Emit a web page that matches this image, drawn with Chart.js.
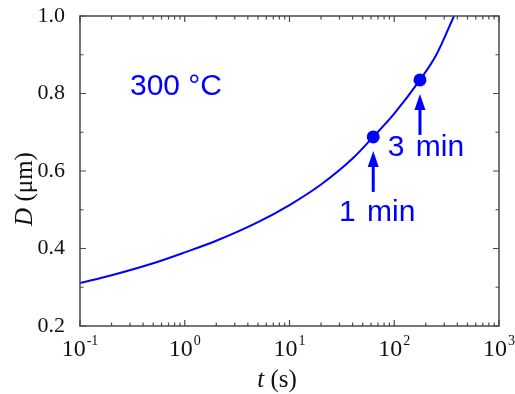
<!DOCTYPE html>
<html>
<head>
<meta charset="utf-8">
<script src="https://cdn.jsdelivr.net/npm/chart.js@4"></script>
<style>
  html, body { margin: 0; padding: 0; background: #fff; }
</style>
</head>
<body>
<canvas id="chart" width="515" height="394"></canvas>
<script>
// curve D(t)
const times = [0.1, 0.2, 0.5, 1, 2, 5, 10, 20, 40, 63, 100, 176, 250, 372];
const diam = [0.311, 0.331, 0.362, 0.390, 0.420, 0.468, 0.512, 0.565, 0.632, 0.688, 0.748, 0.835, 0.898, 1.0];

// marked annealing times
const markTimes = [63, 176];
const markDiam = [0.688, 0.835];
const markLabels = ['1 min', '3 min'];

// axis ticks
const xDecades = [0.1, 1, 10, 100, 1000];
const xExponents = ['-1', '0', '1', '2', '3'];
const yMajor = [0.2, 0.4, 0.6, 0.8, 1.0];
const yMinor = [0.3, 0.5, 0.7, 0.9];

const blue = '#0000ff';
const axisColor = '#4a4a4a';

const axesPlugin = {
    id: 'axesPlugin',
    afterDraw(chart) {
        const ctx = chart.ctx;
        const a = chart.chartArea;
        const xs = chart.scales.x;
        const ys = chart.scales.y;
        ctx.save();

        // frame
        ctx.strokeStyle = axisColor;
        ctx.lineWidth = 1.5;
        ctx.strokeRect(a.left, a.top, a.right - a.left, a.bottom - a.top);

        // x ticks (inward, top and bottom)
        ctx.lineWidth = 1.2;
        ctx.beginPath();
        xDecades.forEach(function (d, i) {
            let px = xs.getPixelForValue(d);
            ctx.moveTo(px, a.bottom); ctx.lineTo(px, a.bottom - 6);
            ctx.moveTo(px, a.top); ctx.lineTo(px, a.top + 6);
            if (i < xDecades.length - 1) {
                for (let m = 2; m < 10; m++) {
                    let mx = xs.getPixelForValue(d * m);
                    ctx.moveTo(mx, a.bottom); ctx.lineTo(mx, a.bottom - 3.5);
                    ctx.moveTo(mx, a.top); ctx.lineTo(mx, a.top + 3.5);
                }
            }
        });
        // y ticks (inward, left and right)
        yMajor.concat(yMinor).forEach(function (v) {
            let py = ys.getPixelForValue(v);
            let len = yMajor.includes(v) ? 6 : 3.5;
            ctx.moveTo(a.left, py); ctx.lineTo(a.left + len, py);
            ctx.moveTo(a.right, py); ctx.lineTo(a.right - len, py);
        });
        ctx.stroke();

        // x tick labels 10^n
        ctx.fillStyle = '#111';
        ctx.textBaseline = 'alphabetic';
        ctx.textAlign = 'left';
        xDecades.forEach(function (d, i) {
            let px = xs.getPixelForValue(d);
            ctx.font = '24px "Liberation Serif"';
            let w1 = ctx.measureText('10').width;
            ctx.font = '14px "Liberation Serif"';
            let w2 = ctx.measureText(xExponents[i]).width;
            let x0 = px - (w1 + w2 + 1) / 2;
            ctx.font = '24px "Liberation Serif"';
            ctx.fillText('10', x0, 356);
            ctx.font = '14px "Liberation Serif"';
            ctx.fillText(xExponents[i], x0 + w1 + 1, 345);
        });

        // axis titles
        ctx.font = 'italic 25px "Liberation Serif"';
        let wt = ctx.measureText('t').width;
        ctx.font = '25px "Liberation Serif"';
        let ws = ctx.measureText(' (s)').width;
        let tx = 277 - (wt + ws) / 2;
        ctx.font = 'italic 25px "Liberation Serif"';
        ctx.fillText('t', tx, 387);
        ctx.font = '25px "Liberation Serif"';
        ctx.fillText(' (s)', tx + wt, 387);

        ctx.save();
        ctx.translate(32, 189);
        ctx.rotate(-Math.PI / 2);
        ctx.font = 'italic 25px "Liberation Serif"';
        let wd = ctx.measureText('D').width;
        ctx.font = '25px "Liberation Serif"';
        let wu = ctx.measureText(' (μm)').width;
        let ty = -(wd + wu) / 2;
        ctx.font = 'italic 25px "Liberation Serif"';
        ctx.fillText('D', ty, 0);
        ctx.font = '25px "Liberation Serif"';
        ctx.fillText(' (μm)', ty + wd, 0);
        ctx.restore();

        // temperature label
        ctx.fillStyle = blue;
        ctx.font = '30px "Liberation Sans"';
        ctx.textAlign = 'left';
        ctx.fillText('300 °C', xs.getPixelForValue(0.3), ys.getPixelForValue(0.795));

        // arrows and labels under the marked points
        let meta = chart.getDatasetMeta(1);
        let offs = [[4, 84], [6, 76]];
        meta.data.forEach(function (pt, i) {
            let x = pt.x, tip = pt.y + 14, tail = pt.y + 55;
            ctx.strokeStyle = blue;
            ctx.lineWidth = 3;
            ctx.beginPath();
            ctx.moveTo(x, tail); ctx.lineTo(x, tip + 12);
            ctx.stroke();
            ctx.beginPath();
            ctx.moveTo(x, tip);
            ctx.lineTo(x - 5.5, tip + 16);
            ctx.lineTo(x + 5.5, tip + 16);
            ctx.closePath();
            ctx.fill();

            ctx.font = '30px "Liberation Sans"';
            ctx.wordSpacing = '3px';
            ctx.textAlign = 'center';
            ctx.fillText(markLabels[i], x + offs[i][0], pt.y + offs[i][1]);
        });
        ctx.restore();
    }
};

const ctx = document.getElementById('chart').getContext('2d');
new Chart(ctx, {
    type: 'line',
    data: {
        datasets: [{
            data: times.map((t, i) => ({ x: t, y: diam[i] })),
            borderColor: blue,
            borderWidth: 2,
            pointRadius: 0,
            cubicInterpolationMode: 'monotone',
            fill: false
        }, {
            type: 'scatter',
            data: markTimes.map((t, i) => ({ x: t, y: markDiam[i] })),
            backgroundColor: blue,
            borderWidth: 0,
            pointRadius: 6.5
        }]
    },
    options: {
        responsive: false,
        animation: false,
        events: [],
        layout: { padding: { left: 0, right: 16, top: 16, bottom: 0 } },
        plugins: {
            legend: { display: false },
            tooltip: { enabled: false }
        },
        scales: {
            x: {
                type: 'logarithmic',
                min: 0.1,
                max: 1000,
                grid: { display: false },
                border: { display: false },
                ticks: { display: false },
                afterFit: function (s) { s.height = 68; }
            },
            y: {
                min: 0.2,
                max: 1.0,
                grid: { display: false },
                border: { display: false },
                afterBuildTicks: function (s) {
                    s.ticks = yMajor.map(v => ({ value: v }));
                },
                ticks: {
                    padding: 7,
                    color: '#111',
                    font: { family: 'Liberation Serif', size: 22 },
                    callback: v => v.toFixed(1)
                },
                afterFit: function (s) {
                    s.width = 80;
                    s.paddingTop = 0;
                    s.paddingBottom = 0;
                }
            }
        }
    },
    plugins: [axesPlugin]
});
</script>
</body>
</html>
